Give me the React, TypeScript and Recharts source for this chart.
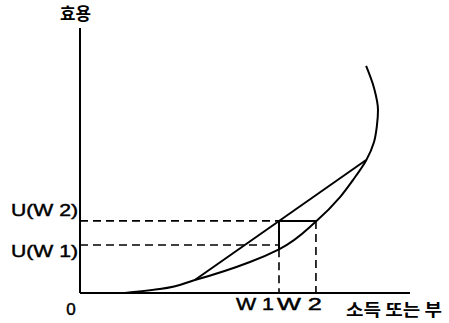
import React from 'react';
import { ComposedChart, Line, XAxis, YAxis } from 'recharts';

// Utility curve (income/wealth -> utility), 0..100 scale on both axes
const curveX = [13.6, 24.2, 34.8, 51.5, 60.3, 71.5, 78.8, 82.7, 86.7, 89.1, 90.0, 90.3, 89.1, 86.7];
const curveY = [0, 1.5, 4.9, 11.7, 16.5, 27.0, 36.2, 42.6, 50.0, 57.0, 63.4, 69.1, 77.4, 85.7];

// chord between two outcomes
const chordX = [34.8, 86.7];
const chordY = [4.9, 50.2];

// key levels
const W1 = 60.3;
const W2 = 71.5;
const UW1 = 18.1;
const UW2 = 27.2;
const W1CurveU = 16.5;

const xTicks = [0, W1, W2];
const xTickLabels = ['0', 'W 1', 'W 2'];
const yTicks = [UW1, UW2];
const yTickLabels = ['U(W 1)', 'U(W 2)'];

const xTitle = '소득 또는 부';
const yTitle = '효용';

const pts = (xs: number[], ys: number[]) => xs.map((x, i) => ({ x, y: ys[i] }));

const curveData = pts(curveX, curveY);
const chordData = pts(chordX, chordY);
const uw1Dash = pts([0, W1], [UW1, UW1]);
const uw2Dash = pts([0, W1], [UW2, UW2]);
const uw2Solid = pts([W1, W2], [UW2, UW2]);
const w1Solid = pts([W1, W1], [UW2, W1CurveU]);
const w1Dash = pts([W1, W1], [W1CurveU, 0]);
const w2Dash = pts([W2, W2], [UW2, 0]);

const latin = '"Liberation Sans", Arial, sans-serif';
const korean = '"Noto Sans CJK KR", "Noto Sans", sans-serif';
const heavy = { stroke: '#000', strokeWidth: 0.45 };

const XTick = (props: any) => {
  const { x, payload } = props;
  const idx = xTicks.indexOf(payload.value);
  const label = xTickLabels[idx];
  if (idx === 0) {
    return (
      <text x={x - 9} y={315} textAnchor="middle" fontSize={17} fontFamily={latin} fill="#000" {...heavy}>
        {label}
      </text>
    );
  }
  const start = idx === 1 ? x - 43 : x - 39;
  const len = idx === 1 ? 38 : 45;
  return (
    <text x={start} y={310} textLength={len} lengthAdjust="spacingAndGlyphs" fontSize={17} fontFamily={latin} fill="#000" {...heavy}>
      {label}
    </text>
  );
};

const YTick = (props: any) => {
  const { y, payload } = props;
  const idx = yTicks.indexOf(payload.value);
  const label = yTickLabels[idx];
  const baseline = idx === 0 ? y + 12 : y - 5;
  return (
    <text x={11} y={baseline} textLength={67} lengthAdjust="spacingAndGlyphs" fontSize={17} fontFamily={latin} fill="#000" {...heavy}>
      {label}
    </text>
  );
};

const XTitle = () => (
  <text x={346} y={316} textLength={96} lengthAdjust="spacingAndGlyphs" fontSize={17} fontWeight="bold" fontFamily={korean} fill="#000">
    {xTitle}
  </text>
);

const YTitle = () => (
  <text x={60} y={20} textLength={31} lengthAdjust="spacingAndGlyphs" fontSize={17} fontWeight="bold" fontFamily={korean} fill="#000">
    {yTitle}
  </text>
);

const solid = { stroke: '#000', strokeWidth: 2, dot: false, activeDot: false, isAnimationActive: false, type: 'linear' as const };
const dashed = { ...solid, strokeWidth: 1.6, strokeDasharray: '8 5' };

export default function App() {
  return (
    <div style={{ position: 'absolute', left: 0, top: 0, width: 449, height: 323, background: '#fff' }}>
      <ComposedChart width={449} height={323} margin={{ top: 28, right: 39, bottom: 0, left: 0 }}>
        <XAxis
          type="number"
          dataKey="x"
          domain={[0, 100]}
          ticks={xTicks}
          interval={0}
          tick={<XTick />}
          tickLine={false}
          axisLine={{ stroke: '#000', strokeWidth: 2 }}
          height={30}
          allowDataOverflow
          label={<XTitle />}
        />
        <YAxis
          type="number"
          dataKey="y"
          domain={[0, 100]}
          ticks={yTicks}
          interval={0}
          tick={<YTick />}
          tickLine={false}
          axisLine={{ stroke: '#000', strokeWidth: 2 }}
          width={80}
          allowDataOverflow
          label={<YTitle />}
        />
        <Line data={curveData} dataKey="y" {...solid} type="monotoneY" />
        <Line data={chordData} dataKey="y" {...solid} />
        <Line data={uw1Dash} dataKey="y" {...dashed} />
        <Line data={uw2Dash} dataKey="y" {...dashed} />
        <Line data={uw2Solid} dataKey="y" {...solid} />
        <Line data={w1Solid} dataKey="y" {...solid} />
        <Line data={w1Dash} dataKey="y" {...dashed} />
        <Line data={w2Dash} dataKey="y" {...dashed} />
      </ComposedChart>
    </div>
  );
}
